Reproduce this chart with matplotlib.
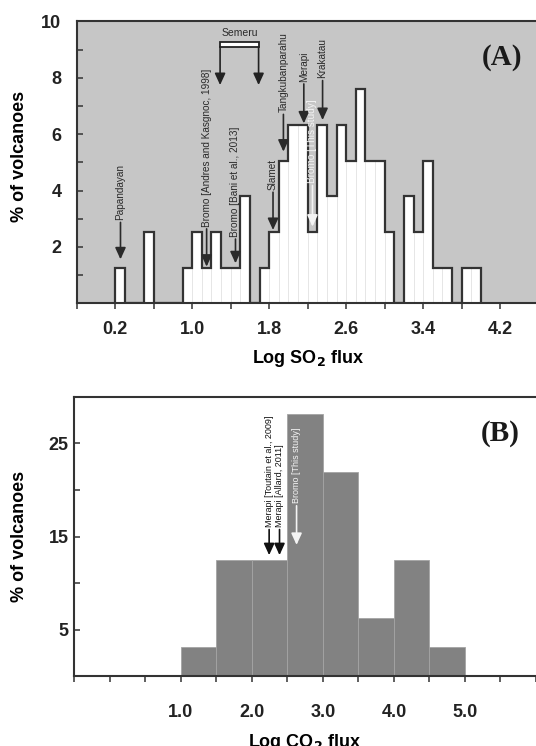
import numpy as np
import matplotlib
matplotlib.use("Agg")
import matplotlib.pyplot as plt
from matplotlib.patches import Rectangle

# === Data ===
# (A) SO2 flux histogram, bins of 0.1 log units starting at 0.2 (% of volcanoes)
so2_bin_start = 0.2
so2_bin_width = 0.1
so2_pct = [1.27, 0, 0, 2.53, 0, 0, 0, 1.27, 2.53, 1.27, 2.53, 1.27, 1.27, 3.80,
           0, 1.27, 2.53, 5.06, 6.33, 6.33, 2.53, 6.33, 3.80, 6.33, 5.06, 7.59,
           5.06, 5.06, 2.53, 0, 3.80, 2.53, 5.06, 1.27, 1.27, 0, 1.27, 1.27]

# (B) CO2 flux histogram, bins of 0.5 log units starting at 1.0
co2_bin_start = 1.0
co2_bin_width = 0.5
co2_pct = [3.13, 12.5, 12.5, 28.13, 21.88, 6.25, 12.5, 3.13]

# annotations: (label, x, text bottom, arrow tip)
so2_notes = [
    ("Papandayan", 0.255, 2.95, 1.56),
    ("Bromo [Andres and Kasgnoc, 1998]", 1.15, 2.72, 1.30),
    ("Bromo [Bani et al., 2013]", 1.45, 2.36, 1.42),
    ("Slamet", 1.84, 4.02, 2.60),
    ("Tangkubanparahu", 1.948, 6.78, 5.38),
    ("Merapi", 2.16, 7.86, 6.38),
    ("Krakatau", 2.355, 7.98, 6.50),
]
so2_this_study = ("Bromo [This study]", 2.25, 4.26, 2.72)
semeru_range = (1.29, 1.69)

co2_notes = [
    ("Merapi [Toutain et al., 2009]", 2.244, 16.05, 13.0),
    ("Merapi [Allard, 2011]", 2.39, 16.05, 13.0),
]
co2_this_study = ("Bromo [This study]", 2.63, 18.6, 14.1)

# === Style ===
plt.rcParams.update({
    "font.family": ["Liberation Sans", "DejaVu Sans"],
    "font.weight": "bold",
    "axes.linewidth": 1.5,
    "axes.edgecolor": "#333333",
    "xtick.color": "#333333",
    "ytick.color": "#333333",
    "xtick.labelcolor": "#222222",
    "ytick.labelcolor": "#222222",
})
TXT = "#2a2a2a"
ARROW = "-|>,head_length=0.7,head_width=0.32"


def add_arrow(ax, x, y0, y1, color):
    ax.annotate("", xy=(x, y1), xytext=(x, y0),
                arrowprops=dict(arrowstyle=ARROW, color=color, lw=1.2,
                                mutation_scale=10, shrinkA=0, shrinkB=0))


def add_note(ax, label, x, ytxt, ytip, color, fs, gap):
    ax.text(x, ytxt, label, rotation=90, ha="center", va="bottom",
            fontsize=fs, fontweight="normal", color=color)
    add_arrow(ax, x, ytxt - gap, ytip, color)


fig = plt.figure(figsize=(5.36, 7.46), dpi=100)

# ---------- (A) SO2 ----------
ax = fig.add_axes([0.1431, 0.5934, 0.8618, 0.378])
ax.set_facecolor("#c6c6c6")
edges = so2_bin_start + so2_bin_width * np.arange(len(so2_pct) + 1)
ax.bar(edges[:-1], so2_pct, width=so2_bin_width, align="edge",
       color="white", edgecolor="#e2e2e2", linewidth=0.5)
ax.stairs(so2_pct, edges, color="#333333", linewidth=1.6)
ax.set_xlim(-0.2, 4.6)
ax.set_ylim(0, 10)
ax.set_xticks(np.arange(-0.2, 4.61, 0.4))
ax.set_xticklabels(["" if i % 2 == 0 else f"{v:.1f}"
                    for i, v in enumerate(np.arange(-0.2, 4.61, 0.4))])
ax.set_yticks(np.arange(0, 11, 1))
ax.set_yticklabels(["" if (v == 0 or v % 2) else str(v) for v in range(11)])
ax.tick_params(axis="x", direction="out", length=4, width=1.1, pad=9, labelsize=13)
ax.tick_params(axis="y", direction="in", length=4, width=1.1, pad=11, labelsize=13)
ax.spines["right"].set_visible(False)
ax.set_xlabel("Log SO$_\\mathbf{2}$ flux", fontsize=13, fontweight="bold")
ax.set_ylabel("% of volcanoes", fontsize=13, fontweight="bold")
ax.xaxis.set_label_coords(0.5, -0.158)
ax.yaxis.set_label_coords(-0.105, 0.52)

for label, x, yt, ytip in so2_notes:
    add_note(ax, label, x, yt, ytip, TXT, 7.2, 0.08)
label, x, yt, ytip = so2_this_study
add_note(ax, label, x, yt, ytip, "#f4f4f4", 7.2, 0.08)

# Semeru bracket
s0, s1 = semeru_range
ax.add_patch(Rectangle((s0, 9.10), s1 - s0, 0.18, facecolor="white",
                       edgecolor="#222222", linewidth=1.3, zorder=3))
add_arrow(ax, s0, 9.10, 7.74, "#222222")
add_arrow(ax, s1, 9.10, 7.74, "#222222")
ax.text((s0 + s1) / 2, 9.57, "Semeru", ha="center", va="center",
        fontsize=7.5, fontweight="normal", color=TXT)

ax.text(4.22, 8.72, "(A)", ha="center", va="center", fontsize=21,
        fontweight="bold", family="Liberation Serif", color="#1a1a1a")

# ---------- (B) CO2 ----------
ax = fig.add_axes([0.1384, 0.0934, 0.8616, 0.3748])
co2_edges = co2_bin_start + co2_bin_width * np.arange(len(co2_pct) + 1)
ax.bar(co2_edges[:-1], co2_pct, width=co2_bin_width, align="edge",
       color="#828282", edgecolor="#a4a4a4", linewidth=0.6)
ax.set_xlim(-0.5, 6.0)
ax.set_ylim(0, 30)
xt = np.arange(-0.5, 6.01, 0.5)
ax.set_xticks(xt)
ax.set_xticklabels([f"{v:.1f}" if (v >= 1 and v <= 5 and v == int(v)) else ""
                    for v in xt])
ax.set_yticks(np.arange(0, 31, 5))
ax.set_yticklabels(["", "5", "", "15", "", "25", ""])
ax.tick_params(axis="x", direction="out", length=4, width=1.1, pad=16, labelsize=13)
ax.tick_params(axis="y", direction="in", length=4, width=1.1, pad=4, labelsize=13)
ax.spines["right"].set_visible(False)
ax.set_xlabel("Log CO$_\\mathbf{2}$ flux", fontsize=13, fontweight="bold")
ax.set_ylabel("% of volcanoes", fontsize=13, fontweight="bold")
ax.xaxis.set_label_coords(0.5, -0.2)
ax.yaxis.set_label_coords(-0.1, 0.5)

for label, x, yt, ytip in co2_notes:
    add_note(ax, label, x, yt, ytip, "#111111", 6.5, 0.3)
label, x, yt, ytip = co2_this_study
add_note(ax, label, x, yt, ytip, "#f4f4f4", 6.5, 0.3)

ax.text(5.5, 26.1, "(B)", ha="center", va="center", fontsize=21,
        fontweight="bold", family="Liberation Serif", color="#1a1a1a")

fig.savefig("out.png", dpi=100)
plt.close(fig)
